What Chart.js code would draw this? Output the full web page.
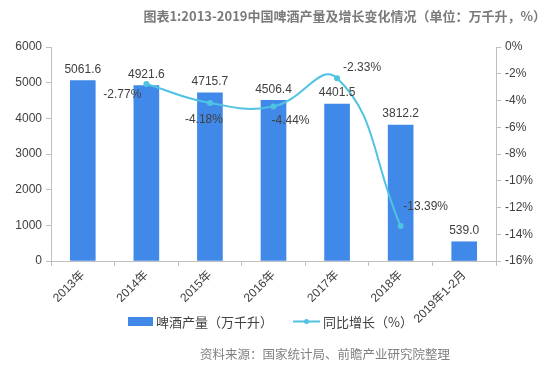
<!DOCTYPE html>
<html><head><meta charset="utf-8">
<script src="https://cdn.jsdelivr.net/npm/chart.js@4/dist/chart.umd.min.js"></script>
<style>
html,body{margin:0;padding:0;background:#fff;}
#wrap{position:relative;width:560px;height:369px;}
</style></head>
<body><div id="wrap"><canvas id="c" width="560" height="369"></canvas></div>
<script>
const categories = ['2013年','2014年','2015年','2016年','2017年','2018年','2019年1-2月'];
const output = [5061.6, 4921.6, 4715.7, 4506.4, 4401.5, 3812.2, 539.0];
const growth = [null, -2.77, -4.18, -4.44, -2.33, -13.39, null];
const leftTicks = [0,1000,2000,3000,4000,5000,6000];
const rightTicks = [0,-2,-4,-6,-8,-10,-12,-14,-16];
const titleText = '图表1:2013-2019中国啤酒产量及增长变化情况（单位：万千升，%）';
const sourceText = '资料来源：国家统计局、前瞻产业研究院整理';
const barLegend = '啤酒产量（万千升）';
const lineLegend = '同比增长（%）';
// label placement offsets (px) for growth labels relative to their points
const growthLabelOffset = [null,[-24,11],[-6,17],[17,14],[25,-10],[25,-19],null];

const BAR = '#4189E8', LINE = '#4FC3E1', TXT = '#404040';
const CJK = '"Noto Sans CJK SC","Noto Sans",sans-serif';
const NUM = '"Liberation Sans","Noto Sans CJK SC",sans-serif';

const textPlugin = {
  id:'texts',
  afterDraw(chart){
    const ctx = chart.ctx;
    ctx.save();
    ctx.font = 'bold 13px ' + CJK;
    ctx.fillStyle = '#7a7a7a';
    ctx.textAlign = 'right'; ctx.textBaseline = 'middle';
    ctx.fillText(titleText, 546, 16);
    const bm = chart.getDatasetMeta(0);
    ctx.font = '12px ' + NUM; ctx.fillStyle = TXT;
    ctx.textAlign = 'center'; ctx.textBaseline = 'bottom';
    bm.data.forEach((el,i)=>{ ctx.fillText(output[i].toFixed(1), el.x, el.y - 5); });
    const lm = chart.getDatasetMeta(1);
    ctx.textBaseline = 'middle';
    lm.data.forEach((el,i)=>{
      if (growth[i]===null) return;
      const o = growthLabelOffset[i];
      ctx.fillText(growth[i].toFixed(2)+'%', el.x + o[0], el.y + o[1]);
    });
    ctx.fillStyle = BAR; ctx.fillRect(128,317,25,9);
    ctx.font = '13px ' + CJK; ctx.fillStyle = TXT; ctx.textAlign='left';
    ctx.fillText(barLegend, 156, 322);
    ctx.strokeStyle = LINE; ctx.lineWidth = 2;
    ctx.beginPath(); ctx.moveTo(293,321.5); ctx.lineTo(320,321.5); ctx.stroke();
    ctx.fillStyle = LINE; ctx.beginPath(); ctx.arc(306.5,321.5,2.5,0,Math.PI*2); ctx.fill();
    ctx.fillStyle = TXT; ctx.fillText(lineLegend, 323, 322);
    ctx.font = '12.5px ' + CJK; ctx.fillStyle = '#808080';
    ctx.fillText(sourceText, 200, 354);
    ctx.restore();
  }
};

new Chart(document.getElementById('c'), {
  data:{
    labels: categories,
    datasets:[
      {type:'bar', data: output, backgroundColor: BAR, barThickness: 25, yAxisID:'y', order:2},
      {type:'line', data: growth, borderColor: LINE, backgroundColor: LINE, borderWidth: 2,
       tension: 0.45, pointRadius: 3, pointBorderWidth:0, yAxisID:'y1', order:1}
    ]
  },
  options:{
    responsive:false, animation:false,
    layout:{padding:{top:47,left:0,right:0,bottom:0}},
    plugins:{legend:{display:false}, title:{display:false}, tooltip:{enabled:false}},
    scales:{
      x:{
        grid:{display:true, drawOnChartArea:false, tickLength:5, color:'#BFBFBF', offset:true},
        border:{display:true, color:'#BFBFBF'},
        ticks:{color:TXT, font:{size:12, family:NUM}, minRotation:45, maxRotation:45, padding:2},
        afterFit(s){ s.height = 108; }
      },
      y:{
        position:'left', min:0, max:6000,
        afterBuildTicks(s){ s.ticks = leftTicks.map(v=>({value:v})); },
        grid:{display:true, drawOnChartArea:false, tickLength:5, color:'#BFBFBF'},
        border:{display:true, color:'#BFBFBF'},
        ticks:{color:TXT, font:{size:12, family:NUM}, padding:4, callback:v=>String(v)},
        afterFit(s){ s.width = 51; }
      },
      y1:{
        position:'right', min:-16, max:0,
        afterBuildTicks(s){ s.ticks = rightTicks.map(v=>({value:v})); },
        grid:{display:true, drawOnChartArea:false, tickLength:5, color:'#BFBFBF'},
        border:{display:true, color:'#BFBFBF'},
        ticks:{color:TXT, font:{size:12, family:NUM}, padding:4, callback:v=>v+'%'},
        afterFit(s){ s.width = 64; }
      }
    }
  },
  plugins:[textPlugin]
});
</script></body></html>
